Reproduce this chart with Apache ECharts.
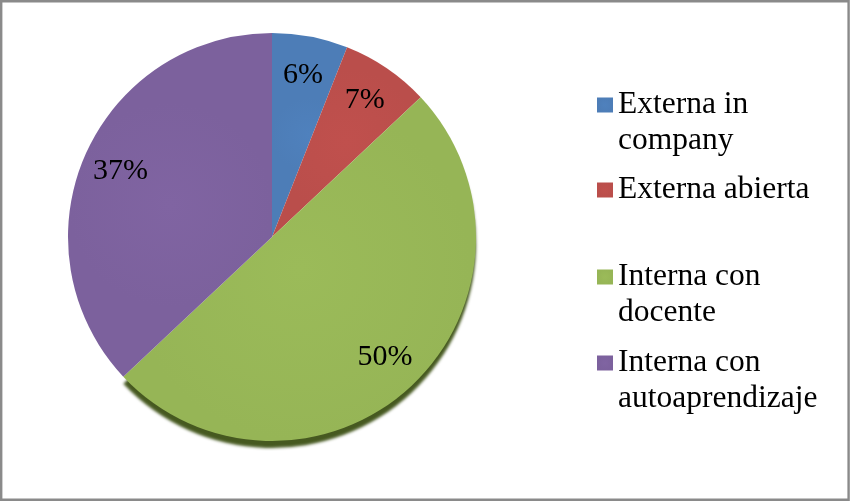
<!DOCTYPE html>
<html>
<head>
<meta charset="utf-8">
<script src="https://cdn.jsdelivr.net/npm/echarts@6/dist/echarts.min.js"></script>
<style>
  html, body { margin: 0; padding: 0; background: #ffffff; }
  #chart { width: 850px; height: 501px; }
</style>
</head>
<body>
<div id="chart"></div>
<script>
// Training modality shares (percent)
const categories = ['Externa in\ncompany', 'Externa abierta', 'Interna con\ndocente', 'Interna con\nautoaprendizaje'];
const shares = [6, 7, 50, 37];
const sliceColors = ['#4F81BD', '#C0504D', '#9BBB59', '#8064A2'];

const FONT = '"Liberation Serif", "Times New Roman", serif';
const CENTER = [272, 237];
const RADIUS = 204;
const LINE_H = 36;

function shade(hex, f) {
  const n = parseInt(hex.slice(1), 16);
  const r = Math.min(255, Math.round(((n >> 16) & 255) * f));
  const g = Math.min(255, Math.round(((n >> 8) & 255) * f));
  const b = Math.min(255, Math.round((n & 255) * f));
  return 'rgb(' + r + ',' + g + ',' + b + ')';
}

const sliceData = categories.map((name, i) => {
  const item = {
    name: name,
    value: shares[i],
    itemStyle: {
      color: {
        type: 'radial', x: 0.5, y: 0.5, r: 0.5,
        colorStops: [
          { offset: 0, color: shade(sliceColors[i], 1.0) },
          { offset: 1, color: shade(sliceColors[i], 0.97) }
        ]
      }
    }
  };
  if (i === 2) {
    item.itemStyle.shadowColor = 'rgba(60,80,20,0.95)';
    item.itemStyle.shadowOffsetY = 7;
    item.itemStyle.shadowBlur = 3;
  }
  return item;
});

const labelData = categories.map((name, i) => ({ name: name, value: shares[i] }));

// legend entries: icon centre y for each entry; two-line names get a blank
// leading line so the marker sits beside their first line
const legendIconY = [105, 190, 277, 363];
const legends = categories.map((name, i) => {
  const twoLines = name.indexOf('\n') >= 0;
  return {
    data: [name],
    orient: 'vertical',
    left: 597,
    top: twoLines ? legendIconY[i] - 1.5 * LINE_H : legendIconY[i] - LINE_H / 2,
    padding: 0,
    itemWidth: 16,
    itemHeight: 15,
    icon: 'rect',
    selectedMode: false,
    formatter: n => (twoLines ? '\u00a0\n' + n : n),
    textStyle: {
      fontFamily: FONT,
      fontSize: 31.5,
      color: '#000000',
      lineHeight: LINE_H
    }
  };
});

const chart = echarts.init(document.getElementById('chart'), null, { renderer: 'canvas' });
chart.setOption({
  animation: false,
  backgroundColor: '#ffffff',
  legend: legends,
  graphic: [{
    type: 'rect',
    shape: { x: 1.2, y: 1.2, width: 847.4, height: 498.6 },
    style: { fill: 'none', stroke: '#8a8a8a', lineWidth: 2.4 },
    z: 100
  }],
  series: [
    {
      type: 'pie',
      center: CENTER,
      radius: [0, RADIUS],
      startAngle: 90,
      clockwise: true,
      data: sliceData,
      label: { show: false },
      labelLine: { show: false },
      emphasis: { disabled: true },
      silent: true
    },
    {
      // ring that only carries the percentage labels, placed near the rim
      type: 'pie',
      center: CENTER,
      radius: [120, RADIUS],
      startAngle: 90,
      clockwise: true,
      data: labelData,
      itemStyle: { color: 'rgba(0,0,0,0)' },
      label: {
        show: true,
        position: 'inside',
        formatter: p => p.value + '%',
        fontFamily: FONT,
        fontSize: 30,
        color: '#000000'
      },
      labelLine: { show: false },
      emphasis: { disabled: true },
      silent: true,
      z: 3
    }
  ]
});
</script>
</body>
</html>
